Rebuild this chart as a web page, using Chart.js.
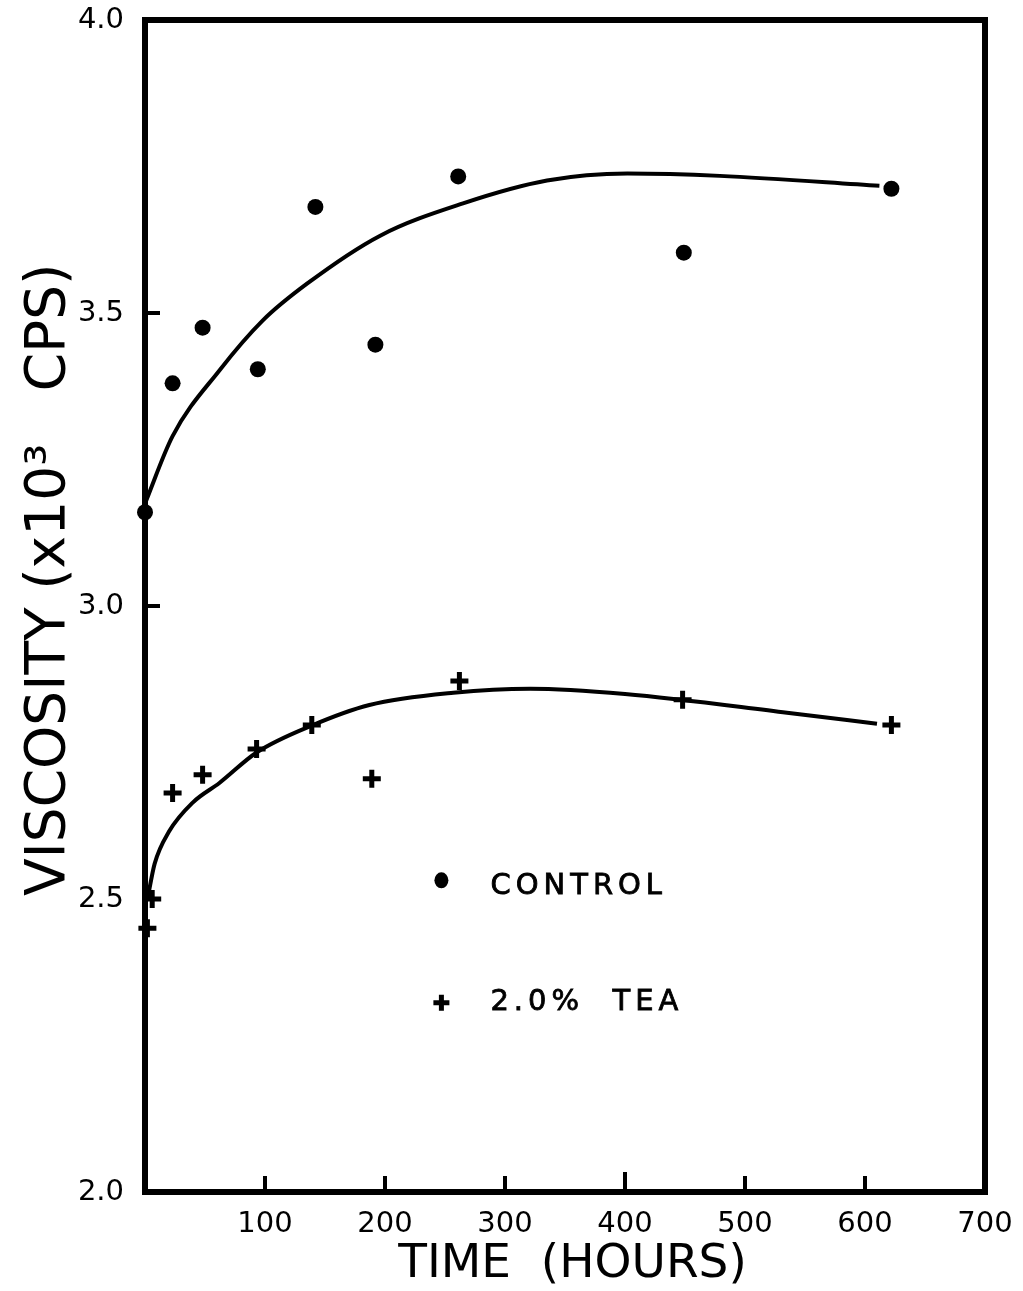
<!DOCTYPE html>
<html>
<head>
<meta charset="utf-8">
<title>Viscosity vs time</title>
<script src="https://cdn.jsdelivr.net/npm/chart.js@4.4.1/dist/chart.umd.min.js"></script>
<style>
    html, body { margin: 0; padding: 0; background: #fff; }
    canvas { display: block; }
</style>
</head>
<body>
<canvas id="grafico" width="1023" height="1291"></canvas>
<script>
// measured points (hours, viscosity x10^3 cps)
const controlHours = [0, 23, 48, 94, 142, 192, 261, 449, 622];
const controlVisc = [3.16, 3.38, 3.475, 3.404, 3.681, 3.446, 3.733, 3.603, 3.712];

const teaHours = [2, 6, 23, 48, 93, 139, 189, 262, 448, 622];
const teaVisc = [2.45, 2.5, 2.681, 2.712, 2.756, 2.797, 2.705, 2.872, 2.84, 2.797];

// hand drawn trend curves
const controlCurveHours = [0, 23, 62, 98, 135, 196, 265, 335, 402, 479, 612];
const controlCurveVisc = [3.175, 3.29, 3.402, 3.487, 3.55, 3.632, 3.687, 3.726, 3.738, 3.734, 3.717];

const teaCurveHours = [2, 8, 20, 40, 62, 93, 139, 187, 257, 321, 400, 535, 610];
const teaCurveVisc = [2.499, 2.56, 2.615, 2.665, 2.698, 2.75, 2.796, 2.831, 2.852, 2.859, 2.85, 2.818, 2.799];

const xTicks = [0, 100, 200, 300, 400, 500, 600, 700];
const yTicks = ['2.0', '2.5', '3.0', '3.5', '4.0'];

const legendItems = ['CONTROL', '2.0%  TEA'];

const FONT = "'DejaVu Sans', sans-serif";
const INK = '#000';

function toXY(xs, ys) {
    return xs.map((x, i) => ({ x: x, y: ys[i] }));
}

// frame, inside tick marks and the in-plot legend
const moldura = {
    id: 'moldura',
    afterDraw(chart) {
        const ctx = chart.ctx;
        const area = chart.chartArea;
        const sx = chart.scales.x;
        const sy = chart.scales.y;
        ctx.save();
        ctx.strokeStyle = INK;
        ctx.lineWidth = 6;
        ctx.lineCap = 'square';
        ctx.strokeRect(area.left, area.top, area.right - area.left, area.bottom - area.top);

        ctx.lineWidth = 4;
        ctx.lineCap = 'butt';
        sx.ticks.forEach(t => {
            if (t.value <= sx.min || t.value >= sx.max) return;
            const px = sx.getPixelForValue(t.value);
            const len = t.value === 400 ? 20 : 16;
            ctx.beginPath();
            ctx.moveTo(px, area.bottom);
            ctx.lineTo(px, area.bottom - len);
            ctx.stroke();
        });
        sy.ticks.forEach(t => {
            if (t.value <= sy.min || t.value >= sy.max) return;
            const py = sy.getPixelForValue(t.value);
            ctx.beginPath();
            ctx.moveTo(area.left, py);
            ctx.lineTo(area.left + 15, py);
            ctx.stroke();
        });

        // legend
        const lx = sx.getPixelForValue(247);
        const rows = [sy.getPixelForValue(2.525), sy.getPixelForValue(2.323)];
        ctx.fillStyle = INK;
        ctx.beginPath();
        ctx.ellipse(lx, rows[0] - 4, 7, 8, 0, 0, Math.PI * 2);
        ctx.fill();
        ctx.lineWidth = 5;
        ctx.beginPath();
        ctx.moveTo(lx - 8, rows[1]);
        ctx.lineTo(lx + 8, rows[1]);
        ctx.moveTo(lx, rows[1] - 8);
        ctx.lineTo(lx, rows[1] + 8);
        ctx.stroke();

        ctx.font = '29px ' + FONT;
        ctx.letterSpacing = '5px';
        ctx.textBaseline = 'middle';
        ctx.textAlign = 'left';
        ctx.lineWidth = 0.8;
        legendItems.forEach((txt, i) => {
            const y = rows[i] + (i === 0 ? 2 : 0);
            ctx.fillText(txt, lx + 49, y);
            ctx.strokeText(txt, lx + 49, y);
        });
        ctx.restore();
    }
};

const ctx = document.getElementById('grafico').getContext('2d');

new Chart(ctx, {
    type: 'scatter',
    data: {
        datasets: [{
            label: 'CONTROL curve',
            type: 'line',
            data: toXY(controlCurveHours, controlCurveVisc),
            borderColor: INK,
            borderWidth: 4,
            pointRadius: 0,
            cubicInterpolationMode: 'monotone',
            fill: false
        }, {
            label: '2.0% TEA curve',
            type: 'line',
            data: toXY(teaCurveHours, teaCurveVisc),
            borderColor: INK,
            borderWidth: 4,
            pointRadius: 0,
            cubicInterpolationMode: 'monotone',
            fill: false
        }, {
            label: 'CONTROL',
            data: toXY(controlHours, controlVisc),
            pointStyle: 'circle',
            pointRadius: 8,
            backgroundColor: INK,
            borderColor: INK,
            borderWidth: 0,
            clip: false
        }, {
            label: '2.0% TEA',
            data: toXY(teaHours, teaVisc),
            pointStyle: 'cross',
            pointRadius: 9,
            backgroundColor: INK,
            borderColor: INK,
            borderWidth: 5,
            clip: false
        }]
    },
    options: {
        responsive: false,
        animation: false,
        layout: {
            padding: { top: 20, right: 38, left: 0, bottom: 0 }
        },
        plugins: {
            legend: { display: false },
            tooltip: { enabled: false }
        },
        scales: {
            x: {
                type: 'linear',
                min: xTicks[0],
                max: xTicks[xTicks.length - 1],
                afterBuildTicks: scale => {
                    scale.ticks = xTicks.map(v => ({ value: v }));
                },
                afterFit: scale => {
                    scale.height = 99;
                    scale.paddingRight = 0;
                },
                grid: { display: false },
                border: { display: false },
                ticks: {
                    color: INK,
                    font: { family: FONT, size: 29 },
                    padding: 7,
                    maxRotation: 0,
                    callback: v => (v === 0 ? '' : String(v))
                },
                title: {
                    display: true,
                    text: ' TIME  (HOURS)',
                    color: INK,
                    font: { family: FONT, size: 47, lineHeight: 1.0 },
                    padding: { top: 0, bottom: 3 }
                }
            },
            y: {
                type: 'linear',
                min: 2.0,
                max: 4.0,
                afterBuildTicks: scale => {
                    scale.ticks = yTicks.map(v => ({ value: parseFloat(v) }));
                },
                afterFit: scale => {
                    scale.width = 145;
                    scale.paddingTop = 0;
                },
                grid: { display: false },
                border: { display: false },
                ticks: {
                    color: INK,
                    font: { family: FONT, size: 29 },
                    padding: 13,
                    callback: v => yTicks.find(t => parseFloat(t) === v)
                },
                title: {
                    display: true,
                    text: '   VISCOSITY (x10³   CPS)',
                    color: INK,
                    font: { family: FONT, size: 55, lineHeight: 1.0 },
                    padding: { top: 22, bottom: 0 }
                }
            }
        }
    },
    plugins: [moldura]
});
</script>
</body>
</html>
